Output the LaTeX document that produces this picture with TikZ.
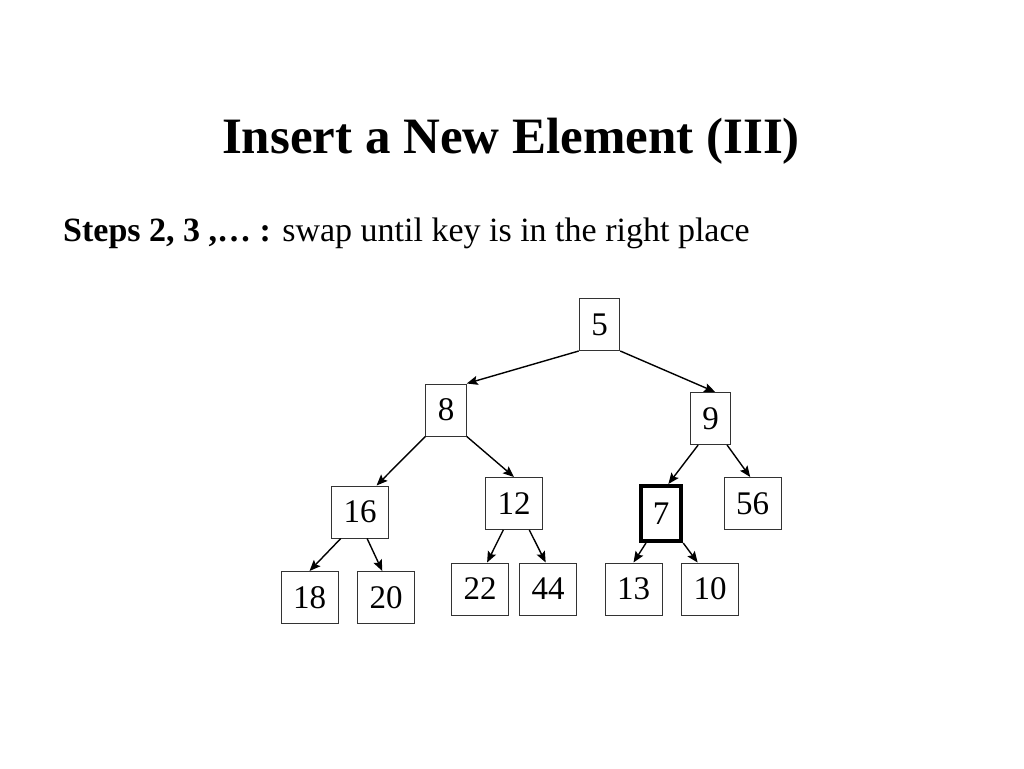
\documentclass[tikz,border=0pt]{standalone}
\usepackage{fontspec}
\setmainfont{Liberation Serif}
\usetikzlibrary{arrows.meta}

\tikzset{
  key/.style={draw=black!80, line width=1pt, inner xsep=12pt, inner ysep=0pt,
    minimum height=52pt, font=\fontsize{33}{33}\selectfont},
  newkey/.style={key, draw=black, line width=4pt, minimum height=55pt},
  link/.style={line width=1.4pt, -{Stealth[length=11pt, width=9pt, inset=2pt]}}
}

\begin{document}
\begin{tikzpicture}[x=1pt, y=-1pt]
  \useasboundingbox (0,0) rectangle (1024,768);

  \node[anchor=base, font=\bfseries\fontsize{51}{51}\selectfont] (title) at (511,153) {Insert a New Element (III)};
  \node[anchor=base west, inner sep=0pt, font=\fontsize{34}{34}\selectfont] (steps) at (63,241)
    {\textbf{Steps 2, 3 ,\dots\ :} swap until key is in the right place};

	\foreach \Name/\X/\Y/\Val in {n5/599.5/324.5/5, n8/446/410/8, n9/710.5/418.5/9,
	  n16/360/512/16, n12/514/503.5/12, n56/752.5/503.5/56,
	  n18/309.5/597.5/18, n20/386/597.5/20, n22/480/589/22,
	  n44/548/589/44, n13/633.5/589/13, n10/710/589/10}{
		\node[key] (\Name) at (\X,\Y) {\Val};
	};
  \node[newkey] (n7) at (661,513.5) {7};

	\foreach \From/\To in {n5.south west/n8.north east, n5.south east/n9.80,
	  n8.south west/n16.58, n8.south east/n12.north,
	  n9.245/n7.76, n9.-58/n56.95,
	  n16.234/n18.north, n16.-75/n20.98,
	  n12.248/n22.75, n12.-60/n44.95,
	  n7.243/n13.north, n7.south east/n10.115}{
		\draw[link] (\From) -- (\To);
	};

\end{tikzpicture}
\end{document}
